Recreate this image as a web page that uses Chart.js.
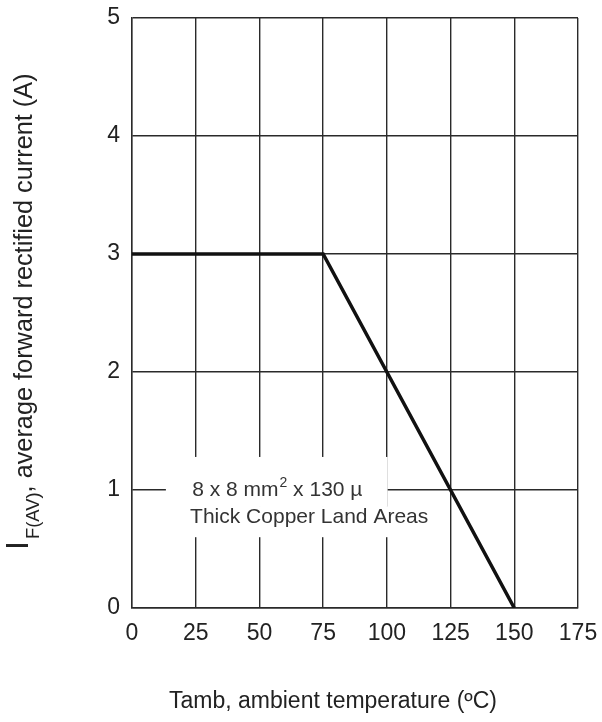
<!DOCTYPE html>
<html>
<head>
<meta charset="utf-8">
<script src="https://cdn.jsdelivr.net/npm/chart.js@4"></script>
<style>
  html, body { margin: 0; padding: 0; background: #fff; }
  #wrap { width: 602px; height: 722px; }
</style>
</head>
<body>
<div id="wrap"><canvas id="deratingChart"></canvas></div>
<script>
// derating curve: ambient temperature (degC) vs average forward current (A)
const tempPoints = [0, 75, 150];
const currentPoints = [3, 3, 0];
const xTicks = [0, 25, 50, 75, 100, 125, 150, 175];
const yTicks = [0, 1, 2, 3, 4, 5];

const FONT = '"Liberation Sans", Arial, Helvetica, sans-serif';
const gridColor = '#2a2a2a';

// axis titles + copper land note (with sub/superscripts) drawn on canvas
const textPlugin = {
  id: 'textPlugin',
  afterDatasetsDraw(chart) {
    const c = chart.ctx;
    const xs = chart.scales.x, ys = chart.scales.y;
    c.save();

    // white patches behind the note
    c.fillStyle = '#fff';
    const bx0 = xs.getPixelForValue(13.3);
    c.fillRect(bx0, ys.getPixelForValue(1.28), xs.getPixelForValue(100.3) - bx0, 50);
    c.fillRect(bx0, ys.getPixelForValue(0.86), xs.getPixelForValue(119) - bx0, ys.getPixelForValue(0.6) - ys.getPixelForValue(0.86));

    c.fillStyle = '#333';
    c.textBaseline = 'alphabetic';
    c.textAlign = 'left';
    const fs = 21;
    let x = xs.getPixelForValue(23.6);
    const b1 = ys.getPixelForValue(0.95);
    c.font = fs + 'px ' + FONT;
    c.fillText('8 x 8 mm', x, b1);
    x += c.measureText('8 x 8 mm').width;
    c.font = Math.round(fs * 0.66) + 'px ' + FONT;
    c.fillText('2', x + 1, b1 - 9);
    x += c.measureText('2').width + 1;
    c.font = fs + 'px ' + FONT;
    c.fillText(' x 130 µ', x, b1);
    c.fillText('Thick Copper Land Areas', xs.getPixelForValue(22.8), ys.getPixelForValue(0.72));

    // x title
    c.fillStyle = '#222';
    c.font = '23px ' + FONT;
    c.fillText('Tamb, ambient temperature (ºC)', 169, 708);

    // y title, rotated; sized to span from y=550 up to y=73
    const parts = [['I', 28, 28], ['F(AV)', 16, 39], [', average forward rectified current (A)', 22, 32]];
    let total = 2;
    parts.forEach(([t, s]) => { c.font = s + 'px ' + FONT; total += c.measureText(t).width; });
    const k = 477 / total;
    c.translate(0, 550);
    c.rotate(-Math.PI / 2);
    let p = 0;
    parts.forEach(([t, s, base], i) => {
      c.font = (s * k).toFixed(1) + 'px ' + FONT;
      c.fillText(t, p, base);
      p += c.measureText(t).width + (i === 0 ? 2 : 0);
    });
    c.restore();
  }
};

new Chart(document.getElementById('deratingChart'), {
  type: 'line',
  data: {
    datasets: [{
      data: tempPoints.map((t, i) => ({ x: t, y: currentPoints[i] })),
      borderColor: '#111',
      borderWidth: 3.5,
      pointRadius: 0,
      tension: 0,
      fill: false
    }]
  },
  options: {
    responsive: true,
    maintainAspectRatio: false,
    animation: false,
    layout: { padding: { top: 18, right: 24, left: 0, bottom: 0 } },
    plugins: { legend: { display: false }, tooltip: { enabled: false } },
    scales: {
      x: {
        type: 'linear',
        min: 0, max: 175,
        afterBuildTicks(s) { s.ticks = xTicks.map(v => ({ value: v })); },
        afterFit(s) { s.height = 114; s.paddingLeft = 0; s.paddingRight = 0; },
        ticks: { color: '#222', font: { size: 23, family: FONT }, padding: 12, maxRotation: 0 },
        grid: { color: gridColor, lineWidth: 1.4, drawTicks: false },
        border: { color: gridColor, width: 1.4 }
      },
      y: {
        type: 'linear',
        min: 0, max: 5,
        afterBuildTicks(s) { s.ticks = yTicks.map(v => ({ value: v })); },
        afterFit(s) { s.width = 132; s.paddingTop = 0; s.paddingBottom = 0; },
        ticks: { color: '#222', font: { size: 23, family: FONT }, padding: 12 },
        grid: { color: gridColor, lineWidth: 1.4, drawTicks: false },
        border: { color: gridColor, width: 1.4 }
      }
    }
  },
  plugins: [textPlugin]
});
</script>
</body>
</html>
